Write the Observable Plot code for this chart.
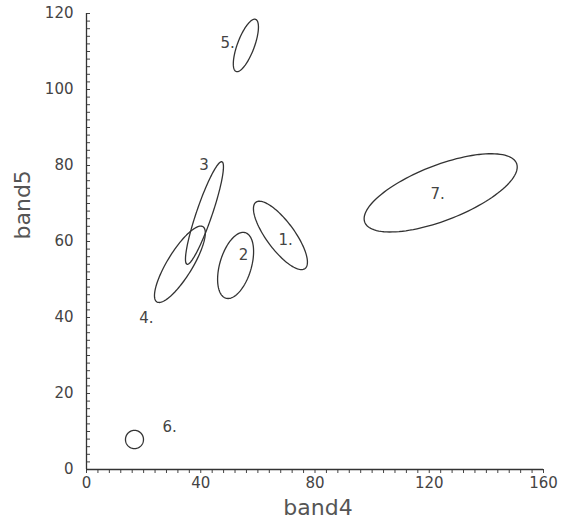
<!DOCTYPE html>
<html>
<head>
<meta charset="utf-8">
<script src="https://cdn.jsdelivr.net/npm/d3@7"></script>
<script src="https://cdn.jsdelivr.net/npm/@observablehq/plot@0.6"></script>
<style>
  html, body { margin: 0; padding: 0; background: #fff; }
</style>
</head>
<body>
<div id="chart"></div>
<script>
// Class ellipses (1-sigma contours): means, standard deviations, correlation
const classes = ["1.", "2", "3", "4.", "5.", "6.", "7."];
const meanX = [67.9, 52.2, 41.3, 32.7, 55.8, 16.8, 124.0];
const meanY = [61.6, 53.7, 67.5, 54.0, 111.6, 7.9, 72.8];
const sdX   = [9.45, 6.3, 6.65, 8.9, 4.4, 3.15, 26.8];
const sdY   = [9.0, 8.7, 13.5, 10.05, 6.9, 2.4, 10.3];
const corr  = [-0.78, 0.42, 0.9, 0.82, 0.7, 0.0, 0.66];
// Label positions
const labelX = [69.7, 55.0, 41.1, 21.0, 49.4, 29.1, 122.9];
const labelY = [60.3, 56.3, 80.2, 39.7, 112.2, 11.1, 72.5];
// Ticks
const xMajor = [0, 40, 80, 120, 160];
const yMajor = [0, 20, 40, 60, 80, 100, 120];
const xMinor = d3.range(0, 161, 4);
const yMinor = d3.range(0, 121, 2);

const ellipsePts = [];
classes.forEach((c, i) => {
  const n = 120;
  const r = corr[i], s = Math.sqrt(1 - r * r);
  for (let k = 0; k < n; k++) {
    const t = (2 * Math.PI * k) / n;
    ellipsePts.push({
      cls: c,
      x: meanX[i] + sdX[i] * Math.cos(t),
      y: meanY[i] + sdY[i] * (r * Math.cos(t) + s * Math.sin(t))
    });
  }
});
const labels = classes.map((c, i) => ({ text: c, x: labelX[i], y: labelY[i] }));

const chart = Plot.plot({
  width: 561,
  height: 531,
  marginLeft: 86,
  marginRight: 18,
  marginTop: 13,
  marginBottom: 62,
  x: { domain: [0, 160] },
  y: { domain: [0, 120] },
  style: { fontFamily: "DejaVu Sans", background: "white", color: "#444" },
  marks: [
    Plot.axisX(xMinor, { tickSize: 4, tickFormat: () => "", stroke: "#444", label: null }),
    Plot.axisX(xMajor, { tickSize: 0, tickPadding: 8, fontSize: 15, fill: "#444", label: null }),
    Plot.axisY(yMinor, { tickSize: -4, tickFormat: () => "", stroke: "#444", label: null }),
    Plot.axisY(yMajor, { tickSize: 0, tickPadding: 13, fontSize: 15, fill: "#444", label: null }),
    Plot.ruleX([0], { stroke: "#333", strokeWidth: 1.3 }),
    Plot.ruleY([0], { stroke: "#333", strokeWidth: 1.3 }),
    Plot.line(ellipsePts, { x: "x", y: "y", z: "cls", curve: "linear-closed", stroke: "#333", strokeWidth: 1.3 }),
    Plot.text(labels, { x: "x", y: "y", text: "text", fontSize: 15, fill: "#444" }),
    Plot.text(["band4"], { text: d => d, frameAnchor: "bottom", dx: 3, dy: 45, fontSize: 22, fill: "#555" }),
    Plot.text(["band5"], { text: d => d, frameAnchor: "left", dx: -64, dy: -2, rotate: -90, fontSize: 22, fill: "#555" })
  ]
});
document.getElementById("chart").appendChild(chart);
</script>
</body>
</html>
